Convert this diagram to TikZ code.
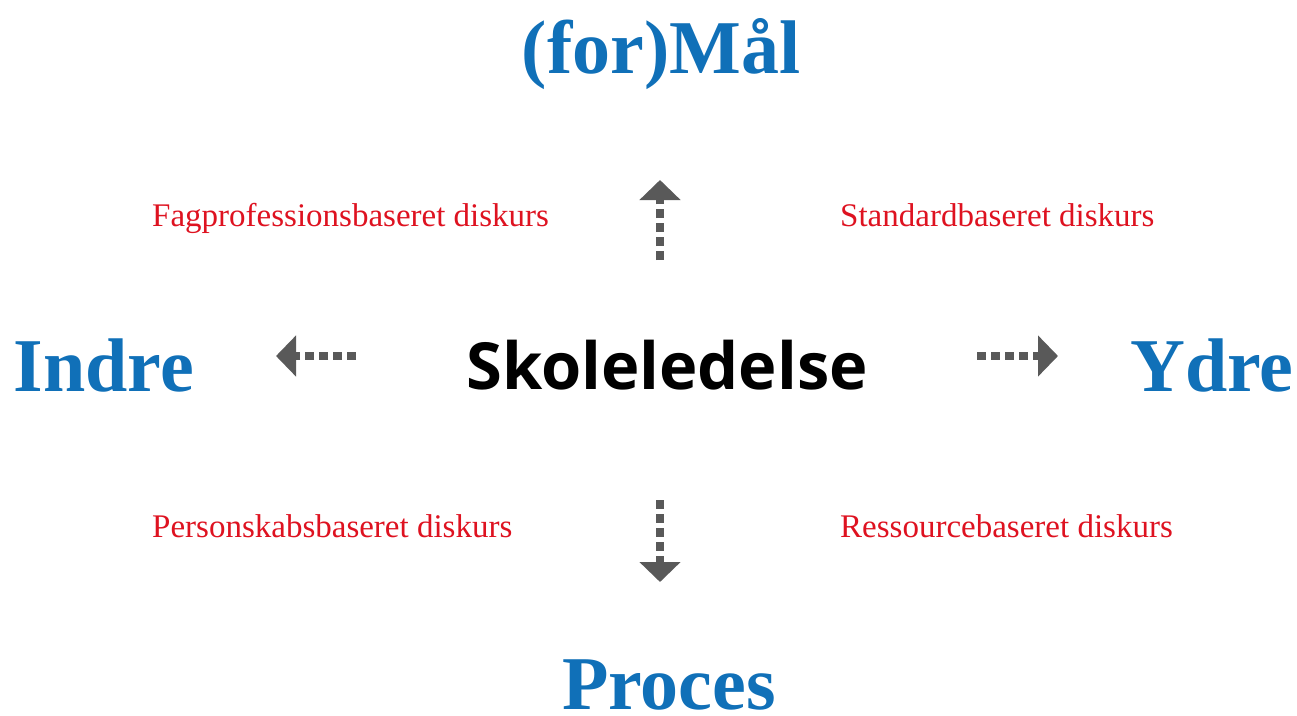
\documentclass[tikz,border=0pt]{standalone}
\usepackage{fontspec}
\setmainfont{Liberation Serif}
\newfontfamily\skolefont{Open Sans}
\usetikzlibrary{arrows.meta}
\definecolor{headblue}{RGB}{16,112,184}
\definecolor{discred}{RGB}{222,18,32}
\definecolor{arrgray}{RGB}{89,89,89}
\tikzset{
  heading/.style={text=headblue, font=\fontsize{76}{80}\selectfont\bfseries, inner sep=0pt, anchor=base},
  discourse/.style={text=discred, font=\fontsize{33}{36}\selectfont, inner sep=0pt, anchor=base west},
  centre/.style={text=black, font=\skolefont\fontsize{65}{70}\selectfont\bfseries, inner sep=0pt, anchor=base},
  dasharrow/.style={draw=arrgray, line width=8pt, dash pattern=on 9pt off 5pt,
    -{Triangle[length=20pt, width=40pt, fill=arrgray]}}
}
\begin{document}
\begin{tikzpicture}[x=1pt, y=-1pt]
\useasboundingbox (0,0) rectangle (1297,715);
\node[heading] (maal) at (661,73) {(for)Mål};
\node[heading] (indre) at (104,391) {Indre};
\node[heading] (ydre) at (1212,391) {Ydre};
\node[heading, text depth=0pt] (proces) at (669,709) {Proces};
\node[centre] (skole) at (667,389) {Skoleledelse};
\node[discourse] (fag) at (152,226) {Fagprofessionsbaseret diskurs};
\node[discourse] (std) at (840,226) {Standardbaseret diskurs};
\node[discourse] (pers) at (152,537) {Personskabsbaseret diskurs};
\node[discourse] (res) at (840,537) {Ressourcebaseret diskurs};
\coordinate (upS) at (660,260);
\coordinate (upE) at (660,180);
\coordinate (dnS) at (660,500);
\coordinate (dnE) at (660,582);
\coordinate (lfS) at (356,356);
\coordinate (lfE) at (276,356);
\coordinate (rtS) at (977,356);
\coordinate (rtE) at (1058,356);
\draw[dasharrow] (upS) -- (upE);
\draw[dasharrow] (dnS) -- (dnE);
\draw[dasharrow] (lfS) -- (lfE);
\draw[dasharrow] (rtS) -- (rtE);
\end{tikzpicture}
\end{document}
